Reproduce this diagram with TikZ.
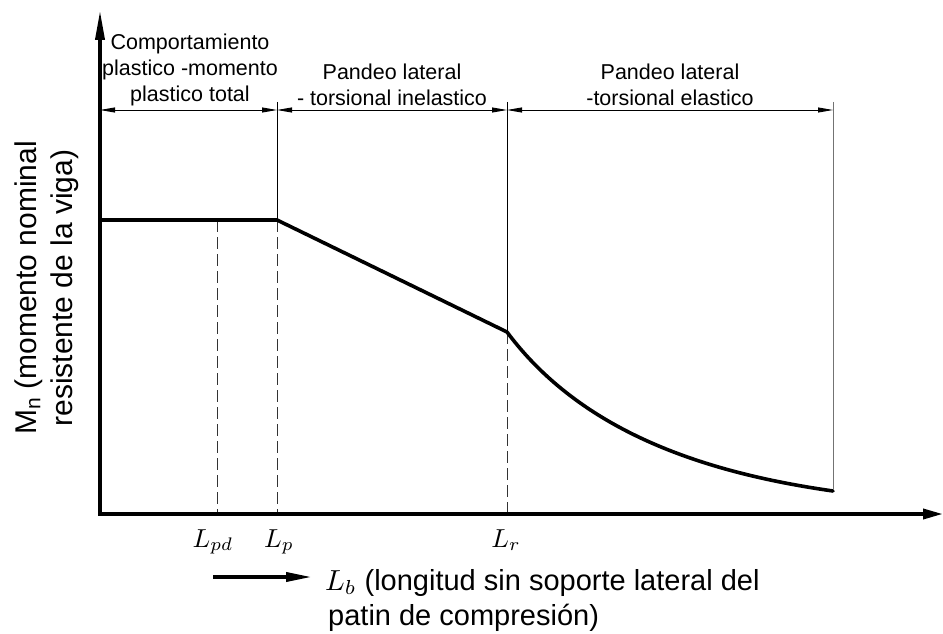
\documentclass[tikz,border=0pt]{standalone}
\usepackage{graphicx}
\usepackage{fontspec}
\setmainfont{Liberation Sans}
\usetikzlibrary{arrows.meta}
\newcommand{\bigmath}[2]{{\fontsize{10}{12}\selectfont\scalebox{#1}{$#2$}}}
\tikzset{
  thick line/.style={line width=3.6pt, line cap=butt},
  thin line/.style={line width=0.9pt},
  dash line/.style={line width=0.9pt, dash pattern=on 12pt off 5pt, black!80},
  dim line/.style={line width=0.9pt, {Triangle[length=15pt,width=5pt]}-{Triangle[length=15pt,width=5pt]}},
  toplabel/.style={align=center, font=\fontsize{21.5}{26}\selectfont, inner sep=0pt},
  biglabel/.style={font=\fontsize{29}{35}\selectfont, inner sep=0pt},
  ylabelstyle/.style={font=\fontsize{30}{36}\selectfont, inner sep=0pt},
  axislabel/.style={inner sep=0pt, anchor=base}
}
\begin{document}
\begin{tikzpicture}[x=1pt,y=-1pt]
\path[use as bounding box] (0,0) rectangle (943,634);
% key points
\coordinate (O) at (100,514);
\coordinate (Ytop) at (100,10);
\coordinate (Xstart) at (98,514);
\coordinate (Xend) at (943,514);
\coordinate (P0) at (100,220);
\coordinate (Pp) at (277,220);
\coordinate (Pr) at (507,332);
\coordinate (Pe) at (833,491);
\coordinate (Bpd) at (217,514);
\coordinate (Tpd) at (217,220);
\coordinate (Bp) at (277,514);
\coordinate (Bpr) at (507,514);
\coordinate (Tp) at (277,102);
\coordinate (Tr) at (507,102);
\coordinate (Te) at (833,102);
\coordinate (Ee) at (833,489);
\coordinate (D0) at (100,110);
\coordinate (D1) at (277,110);
\coordinate (D2) at (507,110);
\coordinate (D3) at (833,110);
% extension and dashed lines
\draw[thin line] (Tp) -- (Pp);
\draw[thin line] (Tr) -- (Pr);
\draw[thin line, black!55] (Te) -- (Ee);
\draw[dash line] (Pp) -- (Bp);
\draw[dash line] (Pr) -- (Bpr);
\draw[dash line] (Tpd) -- (Bpd);
% dimension lines
\draw[dim line] (D0) -- (D1);
\draw[dim line] (D1) -- (D2);
\draw[dim line] (D2) -- (D3);
% axes
\draw[thick line, -{Triangle[length=30pt,width=9pt]}] (O) -- (Ytop);
\draw[thick line, -{Triangle[length=20pt,width=10pt]}] (Xstart) -- (Xend);
% curve
\draw[line width=3.6pt, line join=round, line cap=round] (P0) -- (Pp) -- (Pr)
  .. controls (580,430) and (700,472) .. (Pe);
% top labels
\node[toplabel] (t1) at (190,70) {Comportamiento\\plastico -momento\\plastico total};
\node[toplabel] (t2) at (392,85) {Pandeo lateral\\- torsional inelastico};
\node[toplabel] (t3) at (670,85) {Pandeo lateral\\-torsional elastico};
% axis point labels
\node[axislabel] (lpd) at (213,547) {\bigmath{2.6}{L_{pd}}};
\node[axislabel] (lp) at (279,547) {\bigmath{2.6}{L_{p}}};
\node[axislabel] (lr) at (506,547) {\bigmath{2.6}{L_{r}}};
% left label
\node[ylabelstyle, rotate=90, align=center] (ylab) at (47,288) {M\textsubscript{n} (momento nominal\\resistente de la viga)};
% bottom label
\coordinate (A0) at (213,577);
\coordinate (A1) at (312,577);
\draw[thick line, -{Triangle[length=26pt,width=9pt]}] (A0) -- (A1);
\node[biglabel, anchor=base west] (xl1) at (325,590) {\bigmath{2.9}{L_b} (longitud sin soporte lateral del};
\node[biglabel, anchor=base west] (xl2) at (328,625) {patin de compresión)};
\end{tikzpicture}
\end{document}
